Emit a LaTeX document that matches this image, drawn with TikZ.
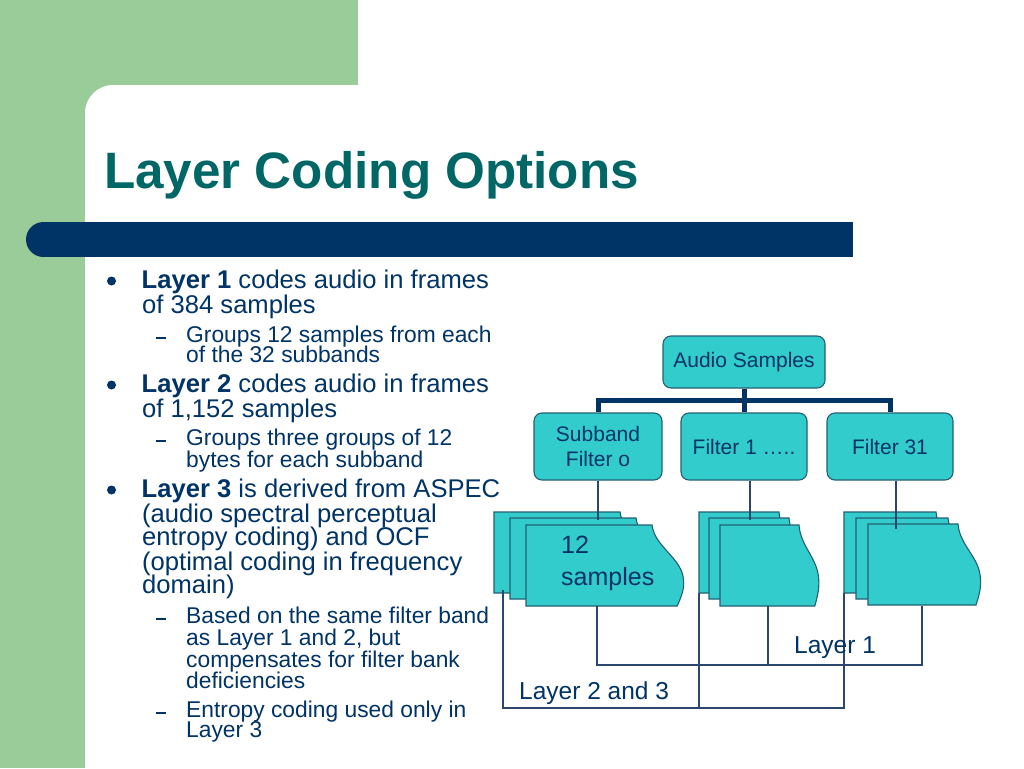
\documentclass[tikz,border=0pt]{standalone}
\usepackage{fontspec}
\setmainfont{Liberation Sans}
\definecolor{navy}{RGB}{0,51,102}
\definecolor{titleteal}{RGB}{0,102,102}
\definecolor{sage}{RGB}{153,204,153}
\definecolor{turq}{RGB}{51,204,204}
\definecolor{boxline}{RGB}{35,95,115}
\definecolor{wire}{RGB}{45,70,110}
\newcommand\mainsz{\fontsize{25.6}{24}\selectfont}
\newcommand\subsz{\fontsize{22.8}{21}\selectfont}
\newcommand\docpage[3]{%
  \begin{scope}[shift={(#1,#2)}, xscale=#3/100]
    \filldraw[docst] (0,0) -- (100,0) .. controls (102,22) and (124,33) .. (125,55)
      .. controls (126,65) and (122,75) .. (120,81) -- (0,81) -- cycle;
  \end{scope}}
\tikzset{
  mt/.style={anchor=base west, inner sep=0pt, text=navy, font=\mainsz},
  st/.style={anchor=base west, inner sep=0pt, text=navy, font=\subsz},
  box/.style={draw=boxline, fill=turq, line width=1.1pt, rounded corners=8pt,
    text=navy, font=\fontsize{21}{25}\selectfont, align=center, inner sep=0pt},
  docst/.style={draw=boxline, fill=turq, line width=1.1pt},
  trunk/.style={draw=navy, line width=5pt},
  wire/.style={draw=wire, line width=1.3pt},
  lbl/.style={anchor=base west, inner sep=0pt, text=navy, font=\fontsize{24.5}{30}\selectfont},
  dot/.style={fill=navy},
  dashmark/.style={draw=navy, line width=1.1pt}
}
\begin{document}
\begin{tikzpicture}[x=1pt,y=-1pt]
\useasboundingbox (0,0) rectangle (1024,768);
\fill[white] (0,0) rectangle (1024,768);
\fill[sage] (0,0) rectangle (358,85);
\fill[sage] (0,0) rectangle (85,768);
\fill[sage] (85,85) rectangle (130,130);
\begin{scope}
  \clip (0,0) rectangle (1024,768);
  \fill[white, rounded corners=28pt] (85,85) rectangle (1100,850);
\end{scope}
% blue bar
\fill[navy] (43.5,222) rectangle (853,257);
\fill[navy] (43.5,239.5) circle (17.5);
% title
\node[anchor=base west, inner sep=0pt, text=titleteal, font=\fontsize{51.2}{60}\selectfont\bfseries] (title) at (104,188) {Layer Coding Options};

% bullets
\foreach \b in {288,392,497} {\fill[dot] (111.5,\b-7) circle (4.5);}
\foreach \b in {342,445,623,717} {\draw[dashmark] (156,\b-4) -- (166,\b-4);}

\node[mt] (l1a) at (141.5,288) {\textbf{Layer 1} codes audio in frames};
\node[mt] (l1b) at (142,313) {of 384 samples};
\node[st] (s1a) at (186,342) {Groups 12 samples from each};
\node[st] (s1b) at (186,362) {of the 32 subbands};
\node[mt] (l2a) at (141.5,392) {\textbf{Layer 2} codes audio in frames};
\node[mt] (l2b) at (142,417) {of 1,152 samples};
\node[st] (s2a) at (186,445) {Groups three groups of 12};
\node[st] (s2b) at (186,467) {bytes for each subband};
\node[mt] (l3a) at (141.5,497) {\textbf{Layer 3} is derived from ASPEC};
\node[mt] (l3b) at (142,522) {(audio spectral perceptual};
\node[mt] (l3c) at (142,545) {entropy coding) and OCF};
\node[mt] (l3d) at (142,570) {(optimal coding in frequency};
\node[mt] (l3e) at (142,593) {domain)};
\node[st] (s3a) at (186,623) {Based on the same filter band};
\node[st] (s3b) at (186,645) {as Layer 1 and 2, but};
\node[st] (s3c) at (186,667) {compensates for filter bank};
\node[st] (s3d) at (186,688) {deficiencies};
\node[st] (s4a) at (186,717) {Entropy coding used only in};
\node[st] (s4b) at (186,737) {Layer 3};

% diagram boxes
\node[box, minimum width=162pt, minimum height=52pt] (AS) at (744,362) {Audio Samples};
\node[box, minimum width=128pt, minimum height=67pt] (SF) at (598,446.5) {Subband\\Filter o};
\node[box, minimum width=126pt, minimum height=67pt] (F1) at (744,446.5) {Filter 1 …..};
\node[box, minimum width=126pt, minimum height=67pt] (F31) at (890,446.5) {Filter 31};

\draw[trunk] (AS.south) -- (F1.north);
\draw[trunk] (AS.south) -- ++(0,12) -| (SF.north);
\draw[trunk] (AS.south) -- ++(0,12) -| (F31.north);

% document stacks
\docpage{494}{512}{126}
\docpage{510}{518}{126}
\docpage{526}{525}{126}
\docpage{699}{512}{80}
\docpage{709}{518}{80}
\docpage{720}{525}{79}
\docpage{844}{512}{92}
\docpage{856}{518}{92}
\docpage{868}{524}{90}

\node[lbl, font=\fontsize{25}{30}\selectfont] (n12) at (561,553) {12};
\node[lbl, font=\fontsize{25}{30}\selectfont] (nsamp) at (561,585) {samples};

% thin connectors from filters
\draw[wire] (SF.south) -- ++(0,39);
\draw[wire] ([xshift=6pt]F1.south) -- ++(0,39);
\draw[wire] ([xshift=6pt]F31.south) -- ++(0,48);

% layer connectors
\coordinate (g1f) at (597,606);
\coordinate (g2f) at (768,606);
\coordinate (g3f) at (922,606);
\coordinate (g1b) at (503,590);
\coordinate (g2b) at (699,593);
\coordinate (g3b) at (844,593);
\draw[wire] (g1f) -- ++(0,59) -| (g3f);
\draw[wire] (g2f) -- ++(0,59);
\draw[wire] (g1b) -- ++(0,118) -| (g3b);
\draw[wire] (g2b) -- ++(0,115);

\node[lbl] (lay1) at (794,653) {Layer 1};
\node[lbl] (lay23) at (519,699) {Layer 2 and 3};
\end{tikzpicture}
\end{document}
